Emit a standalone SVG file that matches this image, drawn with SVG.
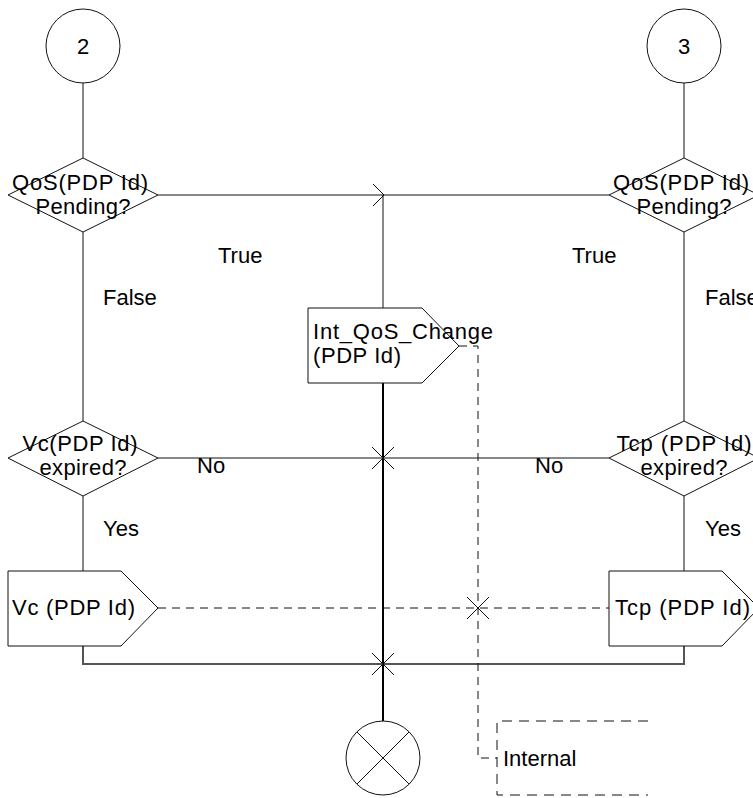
<svg xmlns="http://www.w3.org/2000/svg" width="753" height="798" viewBox="0 0 753 798">
<style>
.s{fill:#fff;stroke:#111;stroke-width:1}
.l{fill:none;stroke:#111;stroke-width:1}
.d{fill:none;stroke:#111;stroke-width:1;stroke-dasharray:8 6}
.t{font-family:"Liberation Sans",Arial,sans-serif;font-size:22px;fill:#000}
.c{text-anchor:middle}
</style>
<rect width="753" height="798" fill="#fff"/>
<g id="connectors">
<path class="l" d="M83,83V158"/>
<path class="l" d="M684,83V158"/>
<path class="l" d="M158,195H609"/>
<path class="l" d="M373,184L384,195L373,206"/>
<path class="l" d="M383,195V308"/>
<path class="l" d="M83,232V421"/>
<path class="l" d="M684,232V421"/>
<path class="l" d="M158,458H609"/>
<path class="l" d="M83,496V571"/>
<path class="l" d="M684,496V571"/>
<path d="M83,646V664H684V646" fill="none" stroke="#555" stroke-width="2"/>
<path d="M383,383V721" fill="none" stroke="#000" stroke-width="2"/>
<path class="d" d="M158,608H609"/>
<path class="d" d="M459,346H478V758H497"/>
<path class="l" d="M372,447L394,469M394,447L372,469"/>
<path class="l" d="M372,653L394,675M394,653L372,675"/>
<path class="l" d="M467,597L489,619M489,597L467,619"/>
</g>
<g id="n2"><circle class="s" cx="83" cy="46" r="37"/><text class="t c" x="83" y="54">2</text></g>
<g id="n3"><circle class="s" cx="684" cy="46" r="37"/><text class="t c" x="684" y="54">3</text></g>
<g id="qos_left"><path class="s" d="M8,195L83,158L158,195L83,232Z"/><text class="t c" x="80" y="190" textLength="136" lengthAdjust="spacing">QoS(PDP Id)</text><text class="t c" x="83" y="214" textLength="95" lengthAdjust="spacing">Pending?</text></g>
<g id="qos_right"><path class="s" d="M609,195L684,158L759,195L684,232Z"/><text class="t c" x="681" y="190" textLength="136" lengthAdjust="spacing">QoS(PDP Id)</text><text class="t c" x="684" y="214" textLength="95" lengthAdjust="spacing">Pending?</text></g>
<g id="int_qos"><path class="s" d="M308,308H422L459,346L422,383H308Z"/><text class="t" x="313" y="339" textLength="180" lengthAdjust="spacing">Int_QoS_Change</text><text class="t" x="313" y="363" textLength="88" lengthAdjust="spacing">(PDP Id)</text></g>
<g id="vc_exp"><path class="s" d="M8,458L83,421L158,458L83,496Z"/><text class="t c" x="80" y="451" textLength="115" lengthAdjust="spacing">Vc(PDP Id)</text><text class="t c" x="83" y="475" textLength="87" lengthAdjust="spacing">expired?</text></g>
<g id="tcp_exp"><path class="s" d="M609,458L684,421L759,458L684,496Z"/><text class="t c" x="684" y="451" textLength="135" lengthAdjust="spacing">Tcp (PDP Id)</text><text class="t c" x="684" y="475" textLength="87" lengthAdjust="spacing">expired?</text></g>
<g id="vc_out"><path class="s" d="M8,571H121L158,608L121,646H8Z"/><text class="t" x="12" y="615" textLength="123" lengthAdjust="spacing">Vc (PDP Id)</text></g>
<g id="tcp_out"><path class="s" d="M609,571H722L759,608L722,646H609Z"/><text class="t" x="615" y="615" textLength="135" lengthAdjust="spacing">Tcp (PDP Id)</text></g>
<g id="stop"><circle class="s" cx="383" cy="758" r="37"/><path class="l" d="M357,732L409,784M409,732L357,784"/></g>
<g id="comment"><path d="M648,721H497V795H648" fill="none" stroke="#111" stroke-dasharray="10 7"/><text class="t" x="503" y="766">Internal</text></g>
<g id="labels">
<text class="t" x="218" y="263">True</text>
<text class="t" x="572" y="263">True</text>
<text class="t" x="103" y="305">False</text>
<text class="t" x="705" y="305">False</text>
<text class="t" x="197" y="473">No</text>
<text class="t" x="535" y="473">No</text>
<text class="t" x="103" y="536">Yes</text>
<text class="t" x="705" y="536">Yes</text>
</g>
</svg>
